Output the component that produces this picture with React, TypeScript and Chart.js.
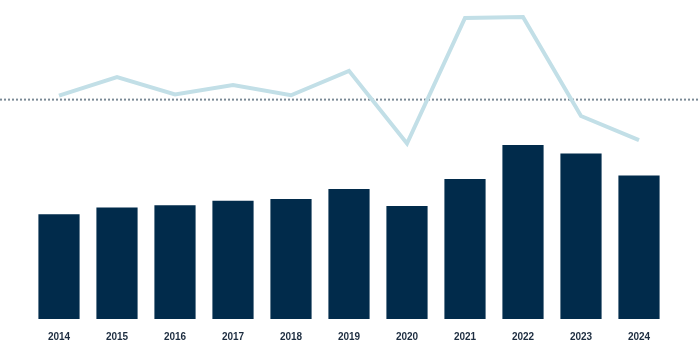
import React, { useEffect, useRef } from "react";
import { Chart, registerables } from "chart.js";

Chart.register(...registerables);

const years = ["2014", "2015", "2016", "2017", "2018", "2019", "2020", "2021", "2022", "2023", "2024"];
const barValues = [33.9, 36.1, 36.8, 38.3, 38.8, 42.1, 36.6, 45.3, 56.3, 53.6, 46.4];
const lineValues = [72.3, 78.3, 72.7, 75.7, 72.4, 80.3, 56.8, 97.4, 97.7, 65.7, 57.9];
const referenceValue = 71.0;

const refLinePlugin = {
  id: "refLine",
  beforeDatasetsDraw(chart: any) {
    const y = chart.scales.yLine.getPixelForValue(referenceValue);
    const ctx = chart.ctx;
    ctx.save();
    ctx.strokeStyle = "#7b8a96";
    ctx.lineWidth = 2;
    ctx.setLineDash([2, 2]);
    ctx.beginPath();
    ctx.moveTo(0, y);
    ctx.lineTo(chart.width, y);
    ctx.stroke();
    ctx.restore();
  },
};

export default function App() {
  const ref = useRef<HTMLCanvasElement | null>(null);
  useEffect(() => {
    document.body.style.margin = "0";
    const chart = new Chart(ref.current as HTMLCanvasElement, {
      type: "bar",
      data: {
        labels: years,
        datasets: [
          {
            type: "line",
            data: lineValues,
            yAxisID: "yLine",
            borderColor: "#c2dfe7",
            borderWidth: 4,
            pointRadius: 0,
            tension: 0,
            fill: false,
            order: 0,
          } as any,
          {
            type: "bar",
            data: barValues,
            yAxisID: "yBar",
            backgroundColor: "#012b4b",
            barPercentage: 0.71,
            categoryPercentage: 1,
            order: 1,
          },
        ],
      },
      options: {
        animation: false,
        responsive: false,
        maintainAspectRatio: false,
        layout: { padding: { left: 30, right: 32, top: 10, bottom: -4 } },
        plugins: { legend: { display: false }, tooltip: { enabled: false } },
        scales: {
          x: {
            grid: { display: false, drawTicks: false },
            border: { display: false },
            ticks: {
              padding: 12,
              color: "#1d2d40",
              font: { family: "'Liberation Sans', Arial, sans-serif", size: 10, weight: "bold" },
            },
          },
          yBar: { display: false, min: 0, max: 100 },
          yLine: { display: false, min: 0, max: 100 },
        },
      },
      plugins: [refLinePlugin],
    });
    return () => chart.destroy();
  }, []);
  return <canvas ref={ref} width={700} height={351} style={{ display: "block" }} />;
}
